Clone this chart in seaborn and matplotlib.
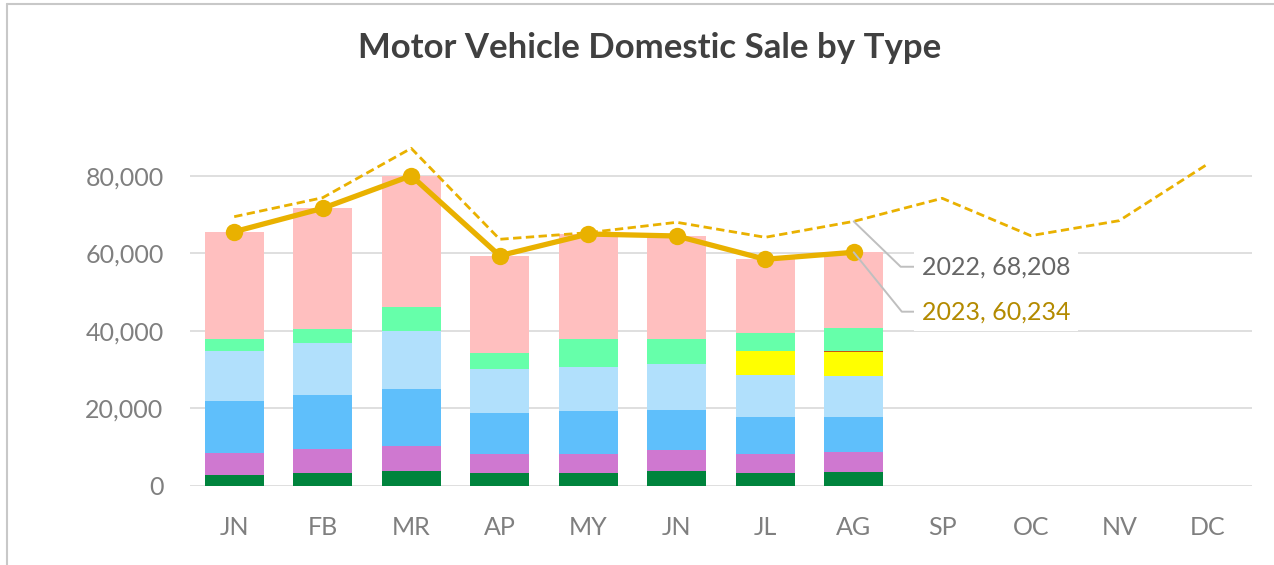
import numpy as np
import pandas as pd
import seaborn as sns
import matplotlib.pyplot as plt
from matplotlib.lines import Line2D

# month labels (12) and 2023 months with data (8)
months = ['JN', 'FB', 'MR', 'AP', 'MY', 'JN', 'JL', 'AG', 'SP', 'OC', 'NV', 'DC']
n_2023 = 8

# 2023 sales by type (bottom to top in the stack)
type_a = [2840, 3200, 3790, 3200, 3200, 3870, 3350, 3610]
type_b = [5520, 6190, 6530, 4980, 4980, 5340, 4830, 5090]
type_c = [13570, 13940, 14710, 10660, 11170, 10250, 9630, 8950]
type_d = [12900, 13500, 14970, 11280, 11280, 11950, 10680, 10580]
type_e = [0, 0, 0, 0, 0, 0, 6350, 6250]
type_f = [0, 0, 0, 0, 0, 0, 0, 200]
type_g = [3020, 3610, 6190, 4200, 7310, 6370, 4490, 6090]
type_h = [27690, 31150, 33810, 25030, 27010, 26660, 19100, 19464]

# 2022 totals (dashed line)
total_2022 = [69420, 74320, 87070, 63590, 65300, 67970, 64100, 68208,
              74170, 64520, 68390, 83020]

type_names = ['A', 'B', 'C', 'D', 'E', 'F', 'G', 'H']
type_colors = ['#00843D', '#CF78D0', '#5FBFFB', '#B1E0FC', '#FFFF00',
               '#C65911', '#66FFAA', '#FFBFBF']

series = [type_a, type_b, type_c, type_d, type_e, type_f, type_g, type_h]
rows = []
for name, vals in zip(type_names, series):
    for i, v in enumerate(vals):
        rows.append({'month': i, 'type': name, 'units': v})
df = pd.DataFrame(rows)
total_2023 = df.groupby('month')['units'].sum().values

sns.set_style('white')
plt.rcParams['font.family'] = ['Lato', 'DejaVu Sans']

fig = plt.figure(figsize=(12.74, 5.65), dpi=100)
ax = fig.add_axes([0.1491, 0.1404, 0.8336, 0.6858])

# seaborn stacks the first hue level on top, so reverse the order
sns.histplot(data=df, x='month', hue='type', weights='units',
             multiple='stack', discrete=True, shrink=0.667,
             hue_order=type_names[::-1],
             palette=dict(zip(type_names, type_colors)),
             alpha=1, linewidth=0, legend=False, ax=ax)

gold = '#E9B100'
sns.lineplot(x=np.arange(12), y=total_2022, color=gold, linewidth=2.0,
             ax=ax, linestyle=(0, (3, 1.6)))
sns.lineplot(x=np.arange(n_2023), y=total_2023, color=gold, linewidth=3.8,
             marker='o', markersize=12.5, markeredgewidth=0, ax=ax)

ax.set_xlim(-0.5, 11.5)
ax.set_ylim(0, 100000)
ax.set_yticks([0, 20000, 40000, 60000, 80000])
ax.yaxis.set_major_formatter(plt.FuncFormatter(lambda v, p: f'{int(v):,}'))
ax.set_xticks(range(12))
ax.set_xticklabels(months)
ax.set_xlabel('')
ax.set_ylabel('')
ax.grid(axis='y', color='#D9D9D9', linewidth=1.2)
ax.set_axisbelow(True)
for s in ax.spines.values():
    s.set_visible(False)
ax.tick_params(axis='both', length=0, labelsize=18, labelcolor='#7F7F7F')
ax.tick_params(axis='x', pad=22)
ax.tick_params(axis='y', pad=19)

# data callouts for the last 2023 month
ax.annotate(f'2022, {total_2022[n_2023 - 1]:,}', xy=(n_2023 - 1, total_2022[n_2023 - 1]),
            xytext=(7.77, 56500), fontsize=18, color='#666666', va='center',
            bbox=dict(boxstyle='square,pad=0.3', fc='white', ec='none'),
            arrowprops=dict(arrowstyle='-', color='#BFBFBF', lw=1.4,
                            relpos=(0, 0.5), shrinkA=0, shrinkB=0,
                            connectionstyle='angle,angleA=0,angleB=-44,rad=0'))
ax.annotate(f'2023, {total_2023[n_2023 - 1]:,}', xy=(n_2023 - 1, total_2023[n_2023 - 1]),
            xytext=(7.77, 44900), fontsize=18, color='#B38A00', va='center',
            bbox=dict(boxstyle='square,pad=0.3', fc='white', ec='none'),
            arrowprops=dict(arrowstyle='-', color='#BFBFBF', lw=1.4,
                            relpos=(0, 0.5), shrinkA=0, shrinkB=0,
                            connectionstyle='angle,angleA=0,angleB=-51,rad=0'))

fig.text(0.510, 0.915, 'Motor Vehicle Domestic Sale by Type', ha='center',
         va='center', fontsize=25, fontweight='bold', color='#404040')

# chart frame (top and left edges visible)
fig.add_artist(Line2D([0.0055, 1.0], [0.9938, 0.9938], color='#C8C8C8', lw=1.5))
fig.add_artist(Line2D([0.0055, 0.0055], [0.0, 0.9938], color='#C8C8C8', lw=1.5))

fig.savefig('out.png', dpi=100)
